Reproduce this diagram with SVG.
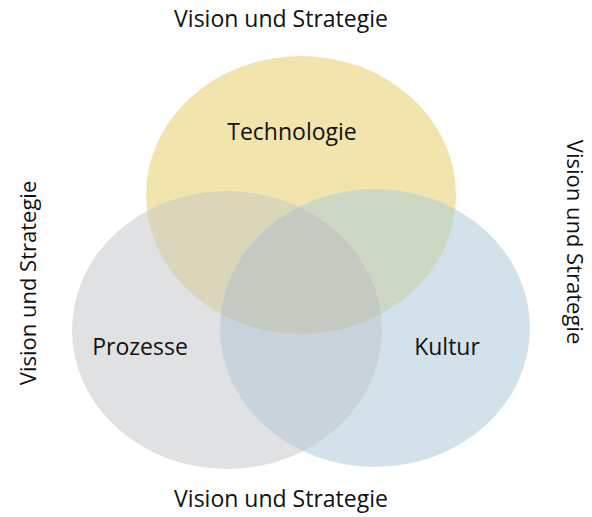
<svg xmlns="http://www.w3.org/2000/svg" xmlns:xlink="http://www.w3.org/1999/xlink" width="592" height="517" viewBox="0 0 592 517">
  <style>
    .lbl { font-family: "Open Sans", "Noto Sans", "DejaVu Sans", sans-serif; font-size: 23px; fill: #111; text-anchor: middle; }
    .side { font-size: 22px; }
  </style>
  <defs>
    <ellipse id="eY" cx="301" cy="195" rx="155" ry="139"/>
    <ellipse id="eG" cx="227" cy="330" rx="155" ry="139"/>
    <ellipse id="eB" cx="375" cy="328" rx="155" ry="139"/>
    <clipPath id="cY"><use xlink:href="#eY"/></clipPath>
    <clipPath id="cG"><use xlink:href="#eG"/></clipPath>
    <clipPath id="cB"><use xlink:href="#eB"/></clipPath>
  </defs>
  <rect width="592" height="517" fill="#ffffff"/>

  <!-- three circles -->
  <g id="technologie">
    <use xlink:href="#eY" fill="#F1E4AC"/>
  </g>
  <g id="prozesse">
    <use xlink:href="#eG" fill="#E0E1E3"/>
  </g>
  <g id="kultur">
    <use xlink:href="#eB" fill="#D3E2EA"/>
  </g>

  <!-- overlap regions -->
  <g id="overlaps">
    <g clip-path="url(#cY)"><use xlink:href="#eG" fill="#DBD5B9"/></g>
    <g clip-path="url(#cY)"><use xlink:href="#eB" fill="#CDD8C4"/></g>
    <g clip-path="url(#cG)"><use xlink:href="#eB" fill="#C9D3DB"/></g>
    <g clip-path="url(#cY)"><g clip-path="url(#cG)"><use xlink:href="#eB" fill="#C4CAC1"/></g></g>
  </g>

  <!-- circle labels -->
  <text class="lbl" x="292" y="140">Technologie</text>
  <text class="lbl" x="140" y="355">Prozesse</text>
  <text class="lbl" x="447" y="355">Kultur</text>

  <!-- surrounding labels -->
  <text class="lbl" x="281" y="27">Vision und Strategie</text>
  <text class="lbl" x="281" y="507">Vision und Strategie</text>
  <text class="lbl side" transform="translate(36,283) rotate(-90)">Vision und Strategie</text>
  <text class="lbl side" transform="translate(567,242) rotate(90)">Vision und Strategie</text>
</svg>
